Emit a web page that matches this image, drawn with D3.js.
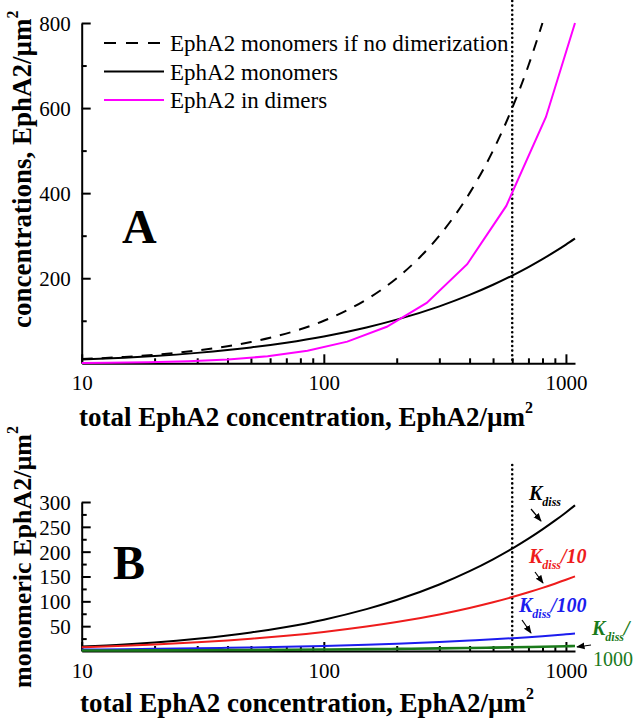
<!DOCTYPE html>
<html><head><meta charset="utf-8">
<script src="https://cdn.jsdelivr.net/npm/d3@7"></script>
<style>
html,body{margin:0;padding:0;background:#fff;}
svg{display:block;}
svg text{font-family:"Liberation Serif","DejaVu Serif",serif;}
</style></head>
<body>
<script>
// ---------- data ----------
const totalConc = [10,15,20,30,40,50,70,100,150,200,300,400,500,600,700,800,900,1000,1090];
const monomers  = [9.2,13.3,17.2,24.5,31.1,37.2,48.4,63.1,84.3,102.6,133.9,160.7,184.6,206.2,226.2,244.9,262.4,279.0,293.3];
const noDimTotal = [10,12,15,20,25,30,40,50,60,80,100,125,150,200,250,300,400,500,600,700,800];
const noDimMonomers = [10,12,15,20,25,30,40,50,60,80,100,125,150,200,250,300,400,500,600,700,800];
const dimerTotal = [10,12.9,18.8,27.5,40.2,58.6,85.6,125,182,266,391,567,827,1090];
const inDimers   = [0.8,1.3,2.5,4.8,9,16.5,29.3,50.9,85.8,142,233,370,579,800];
const monoKd     = [9.2,13.3,17.2,24.5,31.1,37.2,48.4,63.1,84.3,102.6,133.9,160.7,184.6,206.2,226.2,244.9,262.4,279.0,293.3];
const monoKd10   = [7.6,10.5,13.0,17.4,21.2,24.7,30.7,38.4,49.2,58.3,73.7,86.7,98.2,108.6,118.2,127.1,135.5,143.4,150.2];
const monoKd100  = [2.9,3.6,4.3,5.4,6.3,7.1,8.5,10.2,12.6,14.7,18.1,21.0,23.5,25.8,27.9,29.9,31.7,33.5,35.0];
const monoKd1000 = [0.9,1.1,1.3,1.6,1.9,2.1,2.5,3.0,3.7,4.2,5.2,6.0,6.7,7.4,8.0,8.5,9.1,9.6,10.0];
const xMajor = [10,100,1000];
const xMinor = [20,30,40,50,60,70,80,90,200,300,400,500,600,700,800,900];
const yAMajor = [200,400,600,800];
const yAMinor = [100,300,500,700];
const yBMajor = [50,100,150,200,250,300];
const yBMinor = [25,75,125,175,225,275];
const legendLabels = ["EphA2 monomers if no dimerization","EphA2 monomers","EphA2 in dimers"];
const markerLine = 600;

// ---------- layout ----------
const W = 633, H = 720;
const font = '"Liberation Serif","DejaVu Serif",serif';
const svg = d3.select("body").append("svg").attr("width",W).attr("height",H).attr("font-family",font);
const defs = svg.append("defs");
defs.append("marker").attr("id","arr").attr("viewBox","0 0 10 10").attr("refX",9).attr("refY",5)
  .attr("markerWidth",7).attr("markerHeight",7).attr("orient","auto-start-reverse")
  .append("path").attr("d","M0,1 L10,5 L0,9 Z").attr("fill","#000");

const x = d3.scaleLog().domain([10,1090]).range([81.7,575]);
const yA = d3.scaleLinear().domain([0,800]).range([363.3,23]);
const yB = d3.scaleLinear().domain([0,300]).range([651,502]);

function drawXAxis(yPos){
  const g = svg.append("g").attr("transform",`translate(0,${yPos})`);
  g.append("g").call(d3.axisBottom(x).tickValues(xMinor).tickSize(-5).tickSizeOuter(0).tickFormat(""))
    .call(s=>s.select(".domain").remove());
  const gm = g.append("g").call(d3.axisBottom(x).tickValues(xMajor).tickSize(-9).tickSizeOuter(0).tickFormat(d3.format("d")));
  gm.attr("font-family",font);
  gm.selectAll("text").attr("y",27).attr("dy",0).attr("font-size",21).attr("font-family",font).attr("fill","#000");
  g.selectAll("line,path").attr("stroke","#000").attr("stroke-width",2);
  return g;
}
function drawYAxis(y, major, minor){
  const g = svg.append("g").attr("transform","translate(81.7,0)");
  g.append("g").call(d3.axisLeft(y).tickValues(minor).tickSize(-5).tickSizeOuter(0).tickFormat(""))
    .call(s=>s.select(".domain").remove());
  const gm = g.append("g").call(d3.axisLeft(y).tickValues(major).tickSize(-9).tickSizeOuter(0).tickFormat(d3.format("d")));
  gm.attr("font-family",font);
  gm.selectAll("text").attr("x",-11).attr("dy","0.35em").attr("font-size",21).attr("font-family",font).attr("fill","#000");
  g.selectAll("line,path").attr("stroke","#000").attr("stroke-width",2);
}

// ---------- panel A ----------
drawXAxis(yA(0));
drawYAxis(yA, yAMajor, yAMinor);

svg.append("line").attr("x1",x(markerLine)).attr("x2",x(markerLine)).attr("y1",1).attr("y2",yA(0))
  .attr("stroke","#000").attr("stroke-width",2.6).attr("stroke-linecap","round").attr("stroke-dasharray","0,4.6");

const lineA = (xs, ys, curve) => d3.line().x((d,i)=>x(xs[i])).y(d=>yA(d)).curve(curve)(ys);
svg.append("path").attr("d",lineA(noDimTotal,noDimMonomers,d3.curveMonotoneX))
  .attr("fill","none").attr("stroke","#000").attr("stroke-width",2).attr("stroke-dasharray","11,9");
svg.append("path").attr("d",lineA(totalConc,monomers,d3.curveMonotoneX))
  .attr("fill","none").attr("stroke","#000").attr("stroke-width",2);
svg.append("path").attr("d",lineA(dimerTotal,inDimers,d3.curveLinear))
  .attr("fill","none").attr("stroke","#ff00ff").attr("stroke-width",2);

// legend
const legStyles = [{c:"#000",d:"12,10"},{c:"#000",d:null},{c:"#ff00ff",d:null}];
legendLabels.forEach((lab,i)=>{
  const yy = 43 + i*28.5;
  svg.append("line").attr("x1",104).attr("x2",164).attr("y1",yy).attr("y2",yy)
    .attr("stroke",legStyles[i].c).attr("stroke-width",2).attr("stroke-dasharray",legStyles[i].d);
  svg.append("text").attr("x",170).attr("y",yy+8).attr("font-size",23).attr("fill","#000").text(lab);
});

svg.append("text").attr("x",122).attr("y",243).attr("font-size",48).attr("font-weight","bold").text("A");

// axis titles A
const xtA = svg.append("text").attr("x",79).attr("y",426).attr("font-size",27).attr("font-weight","bold");
xtA.append("tspan").text("total EphA2 concentration, EphA2/µm");
xtA.append("tspan").attr("font-size",16).attr("dy",-13).text("2");
const ytA = svg.append("text").attr("transform","translate(31,328) rotate(-90)").attr("font-size",27).attr("font-weight","bold");
ytA.append("tspan").text("concentrations, EphA2/µm");
ytA.append("tspan").attr("font-size",16).attr("dy",-13).text("2");

// ---------- panel B ----------
drawXAxis(yB(0));
drawYAxis(yB, yBMajor, yBMinor);

svg.append("line").attr("x1",x(markerLine)).attr("x2",x(markerLine)).attr("y1",465).attr("y2",yB(0))
  .attr("stroke","#000").attr("stroke-width",2.6).attr("stroke-linecap","round").attr("stroke-dasharray","0,4.6");

const lineB = ys => d3.line().x((d,i)=>x(totalConc[i])).y(d=>yB(d)).curve(d3.curveMonotoneX)(ys);
[[monoKd,"#000",2],[monoKd10,"#ee1c1c",2],[monoKd100,"#1c1cee",2],[monoKd1000,"#1a7a1a",2.6]].forEach(([ys,c,w])=>{
  svg.append("path").attr("d",lineB(ys)).attr("fill","none").attr("stroke",c).attr("stroke-width",w);
});

svg.append("text").attr("x",113).attr("y",579).attr("font-size",48).attr("font-weight","bold").text("B");

function kdiss(xp, yp, col, suffix){
  const t = svg.append("text").attr("x",xp).attr("y",yp).attr("fill",col)
    .attr("font-weight","bold").attr("font-style","italic").attr("font-size",20);
  t.append("tspan").text("K");
  t.append("tspan").attr("font-size",12).attr("dy",6).text("diss");
  if(suffix) t.append("tspan").attr("dy",-6).text(suffix);
}
kdiss(529,500,"#000","");
kdiss(529,563,"#ee1c1c","/10");
kdiss(519,612,"#1c1cee","/100");
kdiss(592,635,"#1a7a1a","/");
svg.append("text").attr("x",593).attr("y",666).attr("fill","#1a7a1a").attr("font-size",20).text("1000");

function arrow(x1,y1,x2,y2){
  svg.append("line").attr("x1",x1).attr("y1",y1).attr("x2",x2).attr("y2",y2)
    .attr("stroke","#000").attr("stroke-width",1.2).attr("marker-end","url(#arr)");
}
arrow(531,509,541,521);
arrow(535,572,543,583);
arrow(522,620,531,633);
arrow(591,645,577,647);

const xtB = svg.append("text").attr("x",80).attr("y",712).attr("font-size",27).attr("font-weight","bold");
xtB.append("tspan").text("total EphA2 concentration, EphA2/µm");
xtB.append("tspan").attr("font-size",16).attr("dy",-13).text("2");
const ytB = svg.append("text").attr("transform","translate(31,688) rotate(-90)").attr("font-size",26).attr("font-weight","bold");
ytB.append("tspan").text("monomeric EphA2/µm");
ytB.append("tspan").attr("font-size",16).attr("dy",-13).text("2");
</script>
</body></html>
